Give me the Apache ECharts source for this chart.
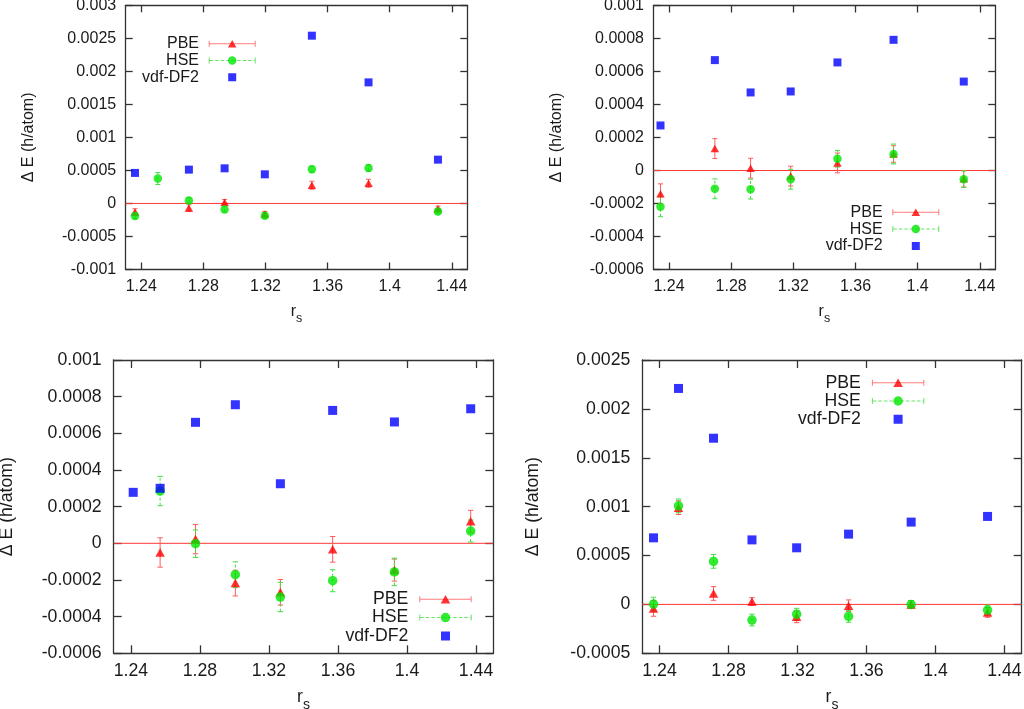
<!DOCTYPE html>
<html><head><meta charset="utf-8">
<script src="https://cdn.jsdelivr.net/npm/echarts@6/dist/echarts.min.js"></script>
<style>html,body{margin:0;padding:0;background:#fff}#c{width:1024px;height:709px}</style>
</head><body><div id="c"></div>
<script>
// ---------- data ----------
const xTicks = [1.24, 1.28, 1.32, 1.36, 1.4, 1.44];
const xTickLabels = ['1.24', '1.28', '1.32', '1.36', '1.4', '1.44'];
const seriesNames = ['PBE', 'HSE', 'vdf-DF2'];
const yName = 'Δ E (h/atom)';

// Panel A (top-left)
const rsA     = [1.236, 1.2507, 1.2707, 1.2937, 1.3196, 1.3499, 1.3864, 1.4311];
const pbeA    = [-0.00013, null, -0.00007, 0.00002, -0.00016, 0.000276, 0.000306, -0.00008];
const pbeErrA = [0.00005, null, 0.00005, 0.00004, 0.00004, 0.00006, 0.00006, 0.00004];
const hseA    = [-0.00019, 0.000377, 0.000045, -0.00009, -0.000185, 0.000517, 0.000537, -0.00012];
const hseErrA = [0.00004, 0.00009, 0.00004, 0.00004, 0.00004, 0.00005, 0.00005, 0.00004];
const vdfA    = [0.000462, null, 0.000512, 0.000532, 0.000441, 0.00254, 0.001833, 0.000663];

// Panel B (top-right)
const rsB     = [1.2345, 1.2695, 1.2925, 1.3183, 1.3484, 1.3845, 1.4297];
const pbeB    = [-0.000141, 0.000133, 0.000014, -0.000034, 0.000046, 0.0001, -0.00005];
const pbeErrB = [0.00006, 0.00006, 0.00006, 0.00006, 0.00006, 0.00005, 0.00005];
const hseB    = [-0.00022, -0.000111, -0.000113, -0.000053, 0.000071, 0.0001, -0.000053];
const hseErrB = [0.00006, 0.00006, 0.00006, 0.00006, 0.00005, 0.00006, 0.00005];
const vdfB    = [0.000273, 0.000669, 0.000473, 0.000479, 0.000655, 0.000792, 0.000539];

// Panel C (bottom-left)
const rsC     = [1.2413, 1.2569, 1.2774, 1.3005, 1.3266, 1.3569, 1.3927, 1.4369];
const pbeC    = [null, -0.00005, 0.000023, -0.000217, -0.000267, -0.000033, -0.000146, 0.00012];
const pbeErrC = [null, 0.00008, 0.00008, 0.00007, 0.00007, 0.00007, 0.00006, 0.00006];
const hseC    = [null, 0.000285, -0.000002, -0.000171, -0.000293, -0.000204, -0.000156, 0.000067];
const hseErrC = [null, 0.00008, 0.000075, 0.00007, 0.00008, 0.00006, 0.000075, 0.00006];
const vdfC    = [0.000278, 0.0003, 0.00066, 0.000756, 0.000325, 0.000725, 0.000662, 0.000734];

// Panel D (bottom-right)
const rsD     = [1.2365, 1.251, 1.2713, 1.2936, 1.3195, 1.3496, 1.3859, 1.4302];
const pbeD    = [-0.000041, 0.00099, 0.000112, 0.00003, -0.000127, -0.000014, 0.0, -0.000082];
const pbeErrD = [0.00008, 0.00007, 0.00007, 0.00004, 0.00006, 0.00006, 0.00004, 0.00005];
const hseD    = [0.000003, 0.001008, 0.00044, -0.00016, -0.0001, -0.000123, 0.0, -0.000058];
const hseErrD = [0.00007, 0.00007, 0.00007, 0.00006, 0.00006, 0.00006, 0.00004, 0.00005];
const vdfD    = [0.000681, 0.002209, 0.0017, 0.00066, 0.000579, 0.000719, 0.000842, 0.0009];

// axis ranges
const xMin = 1.23, xMax = 1.45;
const yRangeA = [-0.001, 0.003, 0.0005];
const yRangeB = [-0.0006, 0.001, 0.0002];
const yRangeC = [-0.0006, 0.001, 0.0002];
const yRangeD = [-0.0005, 0.0025, 0.0005];
const zeroLevel = 0;   // the y = 0 reference line drawn in every panel

// ---------- style / layout ----------
const FONT = '"Liberation Sans", Arial, Helvetica, sans-serif';
const TXT = '#1a1a1a';
const AX = '#333333';
const RED = '#ff0000', GREEN = '#00e600', BLUE = '#0000ff';
const RED_BAR = '#ff5a5a', GREEN_BAR = '#44dd44', ZERO_RED = '#ff3838';

const small = {fs:16, sub:12.5, tickLen:7, mX:9.5, mY:9.5, xGap:28.5, W:47, H:16, gap:0.8, pad:4.7, tri:[8.5,7.5], circ:8.5, sq:8, cap:2.5};
const big   = {fs:17.7, sub:14, tickLen:8, mX:8.5, mY:12, xGap:29, W:52.4, H:18, gap:0.3, pad:6, tri:[9.5,8.5], circ:9.5, sq:9, cap:2.7};

const panels = [
  {rs:rsA, pbe:pbeA, pbeErr:pbeErrA, hse:hseA, hseErr:hseErrA, vdf:vdfA, y:yRangeA, st:small,
   grid:{left:125.7, top:5.3, width:341.6, height:264.2}, yGap:89, leg:{right:768.3, top:35.7}},
  {rs:rsB, pbe:pbeB, pbeErr:pbeErrB, hse:hseB, hseErr:hseErrB, vdf:vdfB, y:yRangeB, st:small,
   grid:{left:653.5, top:5.5, width:341.8, height:264}, yGap:89, leg:{right:84.7, top:204.3}},
  {rs:rsC, pbe:pbeC, pbeErr:pbeErrC, hse:hseC, hseErr:hseErrC, vdf:vdfC, y:yRangeC, st:big,
   grid:{left:113.7, top:360, width:379.6, height:293.3}, yGap:98, leg:{right:552.3, top:590.3}},
  {rs:rsD, pbe:pbeD, pbeErr:pbeErrD, hse:hseD, hseErr:hseErrD, vdf:vdfD, y:yRangeD, st:big,
   grid:{left:642.3, top:360, width:379.4, height:293.3}, yGap:100, leg:{right:99.7, top:373.7}}
];

// ---------- helpers ----------
function rc(x, y, w, h) { return 'M' + x + ' ' + y + 'h' + w + 'v' + h + 'h' + (-w) + 'Z'; }
function bbox(W, H) { return rc(0, 0, 0.01, 0.01) + rc(W - 0.01, H - 0.01, 0.01, 0.01); }
function lineIcon(W, H, dashed) {
  const cy = H / 2; let p = bbox(W, H);
  p += rc(0, cy - 3, 1, 6) + rc(W - 1, cy - 3, 1, 6);
  if (!dashed) p += rc(0, cy - 0.5, W, 1);
  else for (let x = 1; x < W - 1; x += 5.5) p += rc(x, cy - 0.5, Math.min(3.5, W - 1 - x), 1);
  return 'path://' + p;
}
function emptyIcon(W, H) { return 'path://' + bbox(W, H); }
function markerIcon(W, H, kind, s) {
  const cx = W / 2, cy = H / 2; let p = bbox(W, H);
  if (kind === 'tri') { const w = s[0], h = s[1]; p += 'M' + cx + ' ' + (cy - h / 2) + 'L' + (cx + w / 2) + ' ' + (cy + h / 2) + 'L' + (cx - w / 2) + ' ' + (cy + h / 2) + 'Z'; }
  else if (kind === 'circ') { const r = s / 2; p += 'M' + (cx - r) + ' ' + cy + 'A' + r + ' ' + r + ' 0 1 0 ' + (cx + r) + ' ' + cy + 'A' + r + ' ' + r + ' 0 1 0 ' + (cx - r) + ' ' + cy + 'Z'; }
  else p += rc(cx - s / 2, cy - s / 2, s, s);
  return 'path://' + p;
}
function errBar(color, dash, cap) {
  return function (params, api) {
    const x = api.value(0), lo = api.value(1), hi = api.value(2);
    const a = api.coord([x, lo]), b = api.coord([x, hi]);
    return {type:'group', children:[
      {type:'line', shape:{x1:a[0], y1:a[1], x2:b[0], y2:b[1]}, style:{stroke:color, lineWidth:1, lineDash:dash}},
      {type:'line', shape:{x1:a[0]-cap, y1:a[1], x2:a[0]+cap, y2:a[1]}, style:{stroke:color, lineWidth:1}},
      {type:'line', shape:{x1:b[0]-cap, y1:b[1], x2:b[0]+cap, y2:b[1]}, style:{stroke:color, lineWidth:1}}
    ]};
  };
}
function xLabel(v) { const i = xTicks.findIndex(t => Math.abs(t - v) < 1e-9); return i >= 0 ? xTickLabels[i] : ''; }
function yLabel(v) { return String(+Number(v).toFixed(6)); }

// ---------- option ----------
const option = {animation:false, backgroundColor:'#ffffff', grid:[], xAxis:[], yAxis:[], legend:[], series:[]};

panels.forEach((P, p) => {
  const S = P.st;
  option.grid.push(Object.assign({show:false, containLabel:false, outerBoundsMode:'none'}, P.grid));
  const mkLine = () => ({show:true, onZero:false, lineStyle:{color:AX, width:1.3}});
  const tickX = () => ({show:true, inside:true, length:S.tickLen, customValues:xTicks.slice(), lineStyle:{color:AX, width:1.3}});
  const tickY = () => ({show:true, inside:true, length:S.tickLen, lineStyle:{color:AX, width:1.3}});
  option.xAxis.push({
    type:'value', gridIndex:p, position:'bottom', min:xMin, max:xMax,
    axisLine:mkLine(), axisTick:tickX(), splitLine:{show:false},
    axisLabel:{customValues:xTicks.slice(), formatter:xLabel, margin:S.mX, fontSize:S.fs, color:TXT, fontFamily:FONT},
    name:'{a|r}{b|s}', nameLocation:'middle', nameGap:S.xGap, nameMoveOverlap:false,
    nameTextStyle:{color:TXT, fontFamily:FONT, rich:{
      a:{fontSize:S.fs, fontFamily:FONT, color:TXT},
      b:{fontSize:S.sub, fontFamily:FONT, color:TXT, padding:[Math.round(S.fs * 0.88), 0, 0, 0]}
    }}
  });
  option.xAxis.push({
    type:'value', gridIndex:p, position:'top', min:xMin, max:xMax,
    axisLine:mkLine(), axisTick:tickX(), axisLabel:{show:false}, splitLine:{show:false}
  });
  option.yAxis.push({
    type:'value', gridIndex:p, position:'left', min:P.y[0], max:P.y[1], interval:P.y[2],
    axisLine:mkLine(), axisTick:tickY(), splitLine:{show:false},
    axisLabel:{formatter:yLabel, margin:S.mY, fontSize:S.fs, color:TXT, fontFamily:FONT},
    name:yName, nameLocation:'middle', nameRotate:90, nameGap:P.yGap, nameMoveOverlap:false,
    nameTextStyle:{fontSize:S.fs, color:TXT, fontFamily:FONT}
  });
  option.yAxis.push({
    type:'value', gridIndex:p, position:'right', min:P.y[0], max:P.y[1], interval:P.y[2],
    axisLine:mkLine(), axisTick:tickY(), axisLabel:{show:false}, splitLine:{show:false}
  });

  const xi = 2 * p, yi = 2 * p;
  const pts = vals => P.rs.map((x, i) => vals[i] == null ? null : [x, vals[i]]).filter(Boolean);
  const bars = (vals, errs) => P.rs.map((x, i) => vals[i] == null ? null : [x, vals[i] - errs[i], vals[i] + errs[i]]).filter(Boolean);

  // y = 0 reference line across the full x range
  option.series.push({
    type:'line', name:'zero', xAxisIndex:xi, yAxisIndex:yi, silent:true, symbol:'none', z:1,
    lineStyle:{color:ZERO_RED, width:1, type:'solid'}, emphasis:{disabled:true},
    data:[[xMin, zeroLevel], [xMax, zeroLevel]]
  });
  option.series.push({
    type:'custom', name:'PBE bars', xAxisIndex:xi, yAxisIndex:yi, silent:true, z:2,
    renderItem:errBar(RED_BAR, null, S.cap), encode:{x:0, y:[1, 2]}, data:bars(P.pbe, P.pbeErr)
  });
  option.series.push({
    type:'scatter', name:seriesNames[0], xAxisIndex:xi, yAxisIndex:yi, silent:true, z:2,
    symbol:'triangle', symbolSize:S.tri, itemStyle:{color:RED}, data:pts(P.pbe)
  });
  option.series.push({
    type:'custom', name:'HSE bars', xAxisIndex:xi, yAxisIndex:yi, silent:true, z:2,
    renderItem:errBar(GREEN_BAR, [3, 2], S.cap), encode:{x:0, y:[1, 2]}, data:bars(P.hse, P.hseErr)
  });
  option.series.push({
    type:'scatter', name:seriesNames[1], xAxisIndex:xi, yAxisIndex:yi, silent:true, z:2,
    symbol:'circle', symbolSize:S.circ, itemStyle:{color:GREEN}, data:pts(P.hse)
  });
  option.series.push({
    type:'scatter', name:seriesNames[2], xAxisIndex:xi, yAxisIndex:yi, silent:true, z:2,
    symbol:'rect', symbolSize:S.sq, itemStyle:{color:BLUE}, data:pts(P.vdf)
  });

  const legBase = () => ({
    orient:'vertical', align:'right', right:P.leg.right, top:P.leg.top, padding:0,
    itemWidth:S.W, itemHeight:S.H, itemGap:S.gap, selectedMode:false,
    itemStyle:{borderWidth:0}
  });
  option.legend.push(Object.assign(legBase(), {
    textStyle:{fontSize:S.fs, color:TXT, fontFamily:FONT, lineHeight:S.H, padding:[0, S.pad, 0, 0]},
    data:[
      {name:seriesNames[0], icon:lineIcon(S.W, S.H, false), itemStyle:{color:RED_BAR, borderWidth:0}},
      {name:seriesNames[1], icon:lineIcon(S.W, S.H, true), itemStyle:{color:GREEN_BAR, borderWidth:0}},
      {name:seriesNames[2], icon:emptyIcon(S.W, S.H), itemStyle:{color:'rgba(0,0,0,0)', borderWidth:0}}
    ]
  }));
  option.legend.push(Object.assign(legBase(), {
    textStyle:{fontSize:S.fs, color:'rgba(0,0,0,0)', fontFamily:FONT, lineHeight:S.H, padding:[0, S.pad, 0, 0]},
    data:[
      {name:seriesNames[0], icon:markerIcon(S.W, S.H, 'tri', S.tri), itemStyle:{color:RED, borderWidth:0}},
      {name:seriesNames[1], icon:markerIcon(S.W, S.H, 'circ', S.circ), itemStyle:{color:GREEN, borderWidth:0}},
      {name:seriesNames[2], icon:markerIcon(S.W, S.H, 'sq', S.sq), itemStyle:{color:BLUE, borderWidth:0}}
    ]
  }));
});

const chart = echarts.init(document.getElementById('c'), null, {renderer:'canvas'});
chart.setOption(option);
</script>
</body></html>
